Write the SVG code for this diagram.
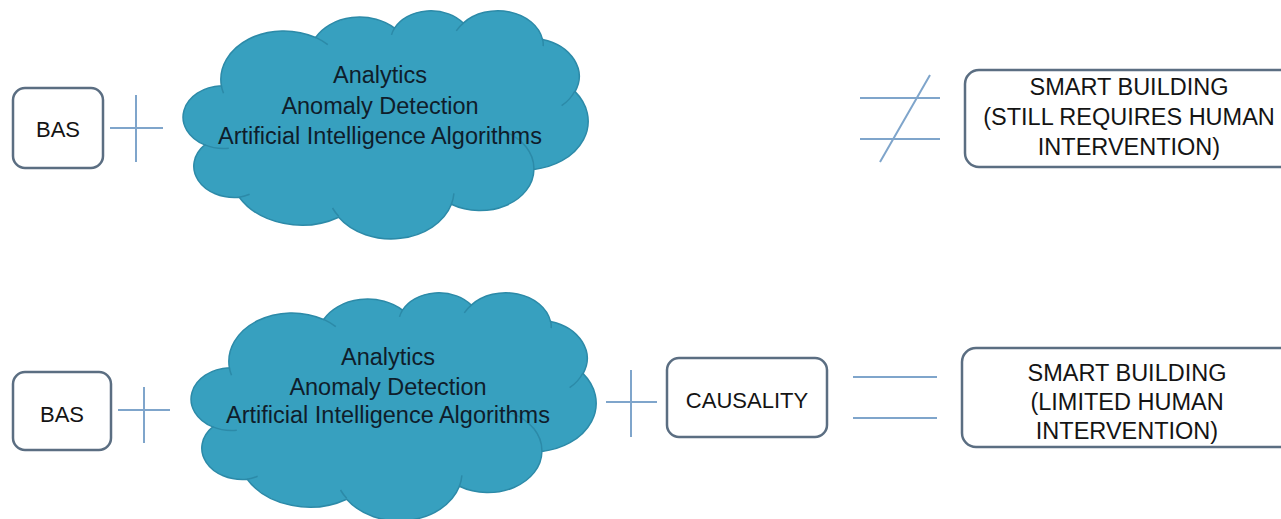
<svg xmlns="http://www.w3.org/2000/svg" xmlns:xlink="http://www.w3.org/1999/xlink" width="1281" height="519" viewBox="0 0 1281 519">
  <style>
    .box { fill: #ffffff; stroke: #5b6e82; stroke-width: 2.5; }
    .cloud { fill: #37a0bf; stroke: #2c8aa8; stroke-width: 1.5; }
    .cloud-inner { fill: none; stroke: #2c8aa8; stroke-width: 1.5; }
    .op { stroke: #7fa5cb; stroke-width: 2; fill: none; stroke-linecap: butt; }
    .label { font-family: "Liberation Sans", Arial, sans-serif; fill: #141414; text-anchor: middle; }
    .cloud-text { font-family: "Liberation Sans", Arial, sans-serif; fill: #0f1d2b; text-anchor: middle; font-size: 23.5px; }
    .small { font-size: 22px; }
    .big { font-size: 23.5px; }
  </style>
  <defs>
    <!-- cloud outline made of elliptical bumps, local box 403 x 228 -->
    <path id="cloud-shape" d="M36.4,75.8 A63,48.5 0 0 1 130.6,27.5 A49.75,38.35 0 0 1 209.5,18.1 A40.72,31.38 0 0 1 278.3,13.1 A45.31,34.81 0 0 1 357.5,29.4 A49.75,38.39 0 0 1 390.1,81.6 A63.2,48.66 0 0 1 348.9,159.4 A53.97,41.52 0 0 1 266.4,194.3 A62.99,48.63 0 0 1 153.7,207.2 A72.02,55.64 0 0 1 54.2,187.2 A40.67,31.23 0 0 1 19.7,134.9 A40.53,31.38 0 0 1 36.4,75.8 Z"/>
    <!-- short inner arcs where the bumps overlap -->
    <path id="cloud-creases" d="M43.8,138.2 A40.53,31.38 0 0 1 19.7,134.9 M64.6,184.2 A40.67,31.23 0 0 1 54.2,187.2 M153.7,206.3 A62.99,48.63 0 0 1 147.5,198.0 M268.9,183.4 A62.99,48.63 0 0 1 266.4,194.3 M318.4,121.1 A53.97,41.52 0 0 1 348.9,159.4 M389.9,81.0 A49.75,38.39 0 0 1 376.6,95.7 M357.5,28.6 A45.31,34.81 0 0 1 358.2,36.1 M271.3,20.9 A45.31,34.81 0 0 1 278.3,13.1 M206.5,24.9 A40.72,31.38 0 0 1 209.5,18.1 M130.6,27.4 A63,48.5 0 0 1 142.8,34.6 M38.5,83.3 A63,48.5 0 0 1 36.4,75.8"/>
  </defs>

  <!-- row 1 -->
  <g id="bas-1">
    <rect class="box" x="13" y="88" width="90" height="80" rx="12"/>
    <text class="label small" x="58" y="137">BAS</text>
  </g>
  <g id="cloud-1" transform="translate(185,10)">
    <use xlink:href="#cloud-shape" class="cloud"/>
    <use xlink:href="#cloud-creases" class="cloud-inner"/>
    <text class="cloud-text" x="195" y="73">Analytics</text>
    <text class="cloud-text" x="195" y="104">Anomaly Detection</text>
    <text class="cloud-text" x="195" y="134">Artificial Intelligence Algorithms</text>
  </g>
  <g id="smart-building-1">
    <rect class="box" x="965" y="70" width="340" height="97" rx="14"/>
    <text class="label big" x="1129" y="95">SMART BUILDING</text>
    <text class="label big" x="1129" y="125">(STILL REQUIRES HUMAN</text>
    <text class="label big" x="1129" y="155">INTERVENTION)</text>
  </g>

  <!-- row 2 -->
  <g id="bas-2">
    <rect class="box" x="13" y="372" width="98" height="78" rx="12"/>
    <text class="label small" x="62" y="422">BAS</text>
  </g>
  <g id="cloud-2" transform="translate(193,292)">
    <use xlink:href="#cloud-shape" class="cloud"/>
    <use xlink:href="#cloud-creases" class="cloud-inner"/>
    <text class="cloud-text" x="195" y="73">Analytics</text>
    <text class="cloud-text" x="195" y="103">Anomaly Detection</text>
    <text class="cloud-text" x="195" y="131">Artificial Intelligence Algorithms</text>
  </g>
  <g id="causality">
    <rect class="box" x="667" y="358" width="160" height="79" rx="12"/>
    <text class="label small" x="747" y="408">CAUSALITY</text>
  </g>
  <g id="smart-building-2">
    <rect class="box" x="962" y="348" width="340" height="99" rx="14"/>
    <text class="label big" x="1127" y="381">SMART BUILDING</text>
    <text class="label big" x="1127" y="410">(LIMITED HUMAN</text>
    <text class="label big" x="1127" y="439">INTERVENTION)</text>
  </g>

  <!-- operator symbols between the terms -->
  <g id="connectors">
    <!-- row 1: plus, not-equal -->
    <path class="op" d="M110,128 H163 M136,95 V162"/>
    <path class="op" d="M860,98 H940 M860,139 H940 M930,75 L880,162"/>
    <!-- row 2: plus, plus, equal -->
    <path class="op" d="M118,410 H170 M144,387 V443"/>
    <path class="op" d="M606,402 H657 M631,370 V437"/>
    <path class="op" d="M853,377 H937 M853,418 H937"/>
  </g>
</svg>
